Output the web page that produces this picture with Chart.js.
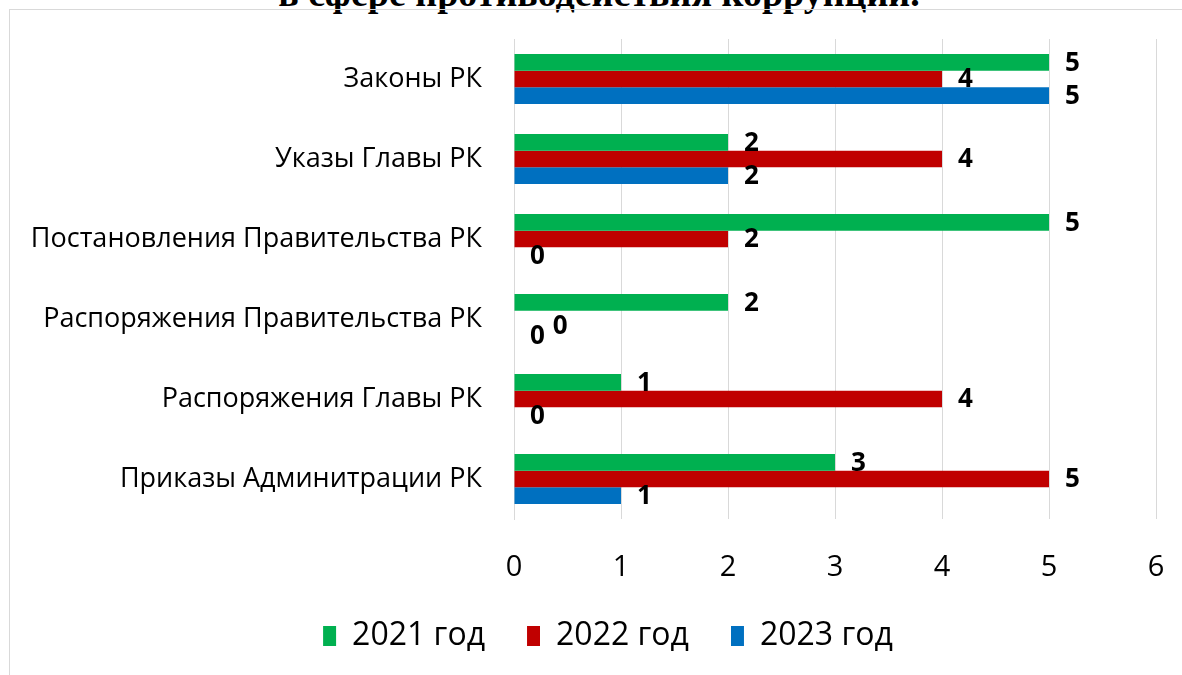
<!DOCTYPE html>
<html><head><meta charset="utf-8">
<script src="https://cdn.jsdelivr.net/npm/chart.js@4"></script>
<style>
html,body{margin:0;padding:0;background:#fff;overflow:hidden;}
#wrap{position:relative;width:1182px;height:675px;overflow:hidden;}
#title{position:absolute;left:8px;width:1182px;top:-26px;text-align:center;font:bold 38px "Liberation Serif";line-height:38px;white-space:nowrap;color:#000;}
#frame{position:absolute;left:9px;top:9px;width:1200px;height:700px;border:1px solid #d9d9d9;box-sizing:border-box;}
#c{position:absolute;left:0;top:0;}
</style></head>
<body><div id="wrap">
<div id="title">в сфере противодействия коррупции.</div>
<div id="frame"></div>
<canvas id="c" width="1182" height="675"></canvas>
</div>
<script>
const categories = ["Законы РК","Указы Главы РК","Постановления Правительства РК","Распоряжения Правительства РК","Распоряжения Главы РК","Приказы Админитрации РК"];
const seriesNames = ["2021 год","2022 год","2023 год"];
const values2021 = [5,2,5,2,1,3];
const values2022 = [4,4,2,0,4,5];
const values2023 = [5,2,0,0,0,1];
const xTicks = [0,1,2,3,4,5,6];
const colors = ["#00B050","#C00000","#0070C0"];

const FONT = "'Open Sans'";

const labelPlugin = {
  id:'barLabels',
  afterLayout(chart){
    // compensate trailing item padding and shift legend row to match reference centring
    const lg = chart.legend;
    if (lg) { const p = 30; lg.left += p; lg.right += p; }
  },
  afterDatasetsDraw(chart){
    const ctx = chart.ctx;
    ctx.save();
    ctx.font = "bold 26px " + FONT;
    ctx.fillStyle = "#000";
    ctx.textAlign = "left";
    ctx.textBaseline = "middle";
    const boxes = [];
    for (let d = chart.data.datasets.length-1; d >= 0; d--){
      const meta = chart.getDatasetMeta(d);
      meta.data.forEach((bar,i)=>{
        const txt = String(chart.data.datasets[d].data[i]);
        const w = ctx.measureText(txt).width;
        let x = bar.x + 16, y = bar.y;
        const h = 22;
        let tries = 0;
        while (boxes.some(b => x < b.x+b.w && x+w > b.x && y-h/2 < b.y+h/2 && y+h/2 > b.y-h/2) && tries < 5){
          x += w + 8; y += 7; tries++;
        }
        boxes.push({x,y,w});
        ctx.fillText(txt, x, y+1);
      });
    }
    ctx.restore();
  }
};

new Chart(document.getElementById('c'), {
  type:'bar',
  data:{
    labels: categories,
    datasets: [
      {label: seriesNames[0], data: values2021, backgroundColor: colors[0]},
      {label: seriesNames[1], data: values2022, backgroundColor: colors[1]},
      {label: seriesNames[2], data: values2023, backgroundColor: colors[2]}
    ]
  },
  options:{
    indexAxis:'y',
    responsive:false,
    animation:false,
    devicePixelRatio:1,
    layout:{padding:{top:39,right:26,left:0,bottom:13}},
    datasets:{bar:{barPercentage:1,categoryPercentage:0.625}},
    scales:{
      x:{
        min:0,max:6,
        afterBuildTicks(s){ s.ticks = xTicks.map(v=>({value:v})); },
        afterFit(s){ s.height = 59; s.paddingLeft = 0; s.paddingRight = 0; },
        grid:{color:'#d9d9d9',lineWidth:1,drawTicks:false},
        border:{display:false},
        ticks:{padding:31,color:'#000',font:{family:FONT,size:29}}
      },
      y:{
        afterFit(s){ s.width = 514; s.paddingTop = 0; s.paddingBottom = 0; },
        grid:{display:false,drawTicks:false},
        border:{display:true,color:'#d9d9d9',width:1},
        ticks:{padding:32,color:'#000',autoSkip:false,font:{family:FONT,size:27}}
      }
    },
    plugins:{
      legend:{
        position:'bottom',
        labels:{boxWidth:13,boxHeight:20,padding:42,color:'#000',font:{family:FONT,size:32}}
      },
      tooltip:{enabled:false},
      title:{display:false}
    }
  },
  plugins:[labelPlugin]
});
</script>
</body></html>
